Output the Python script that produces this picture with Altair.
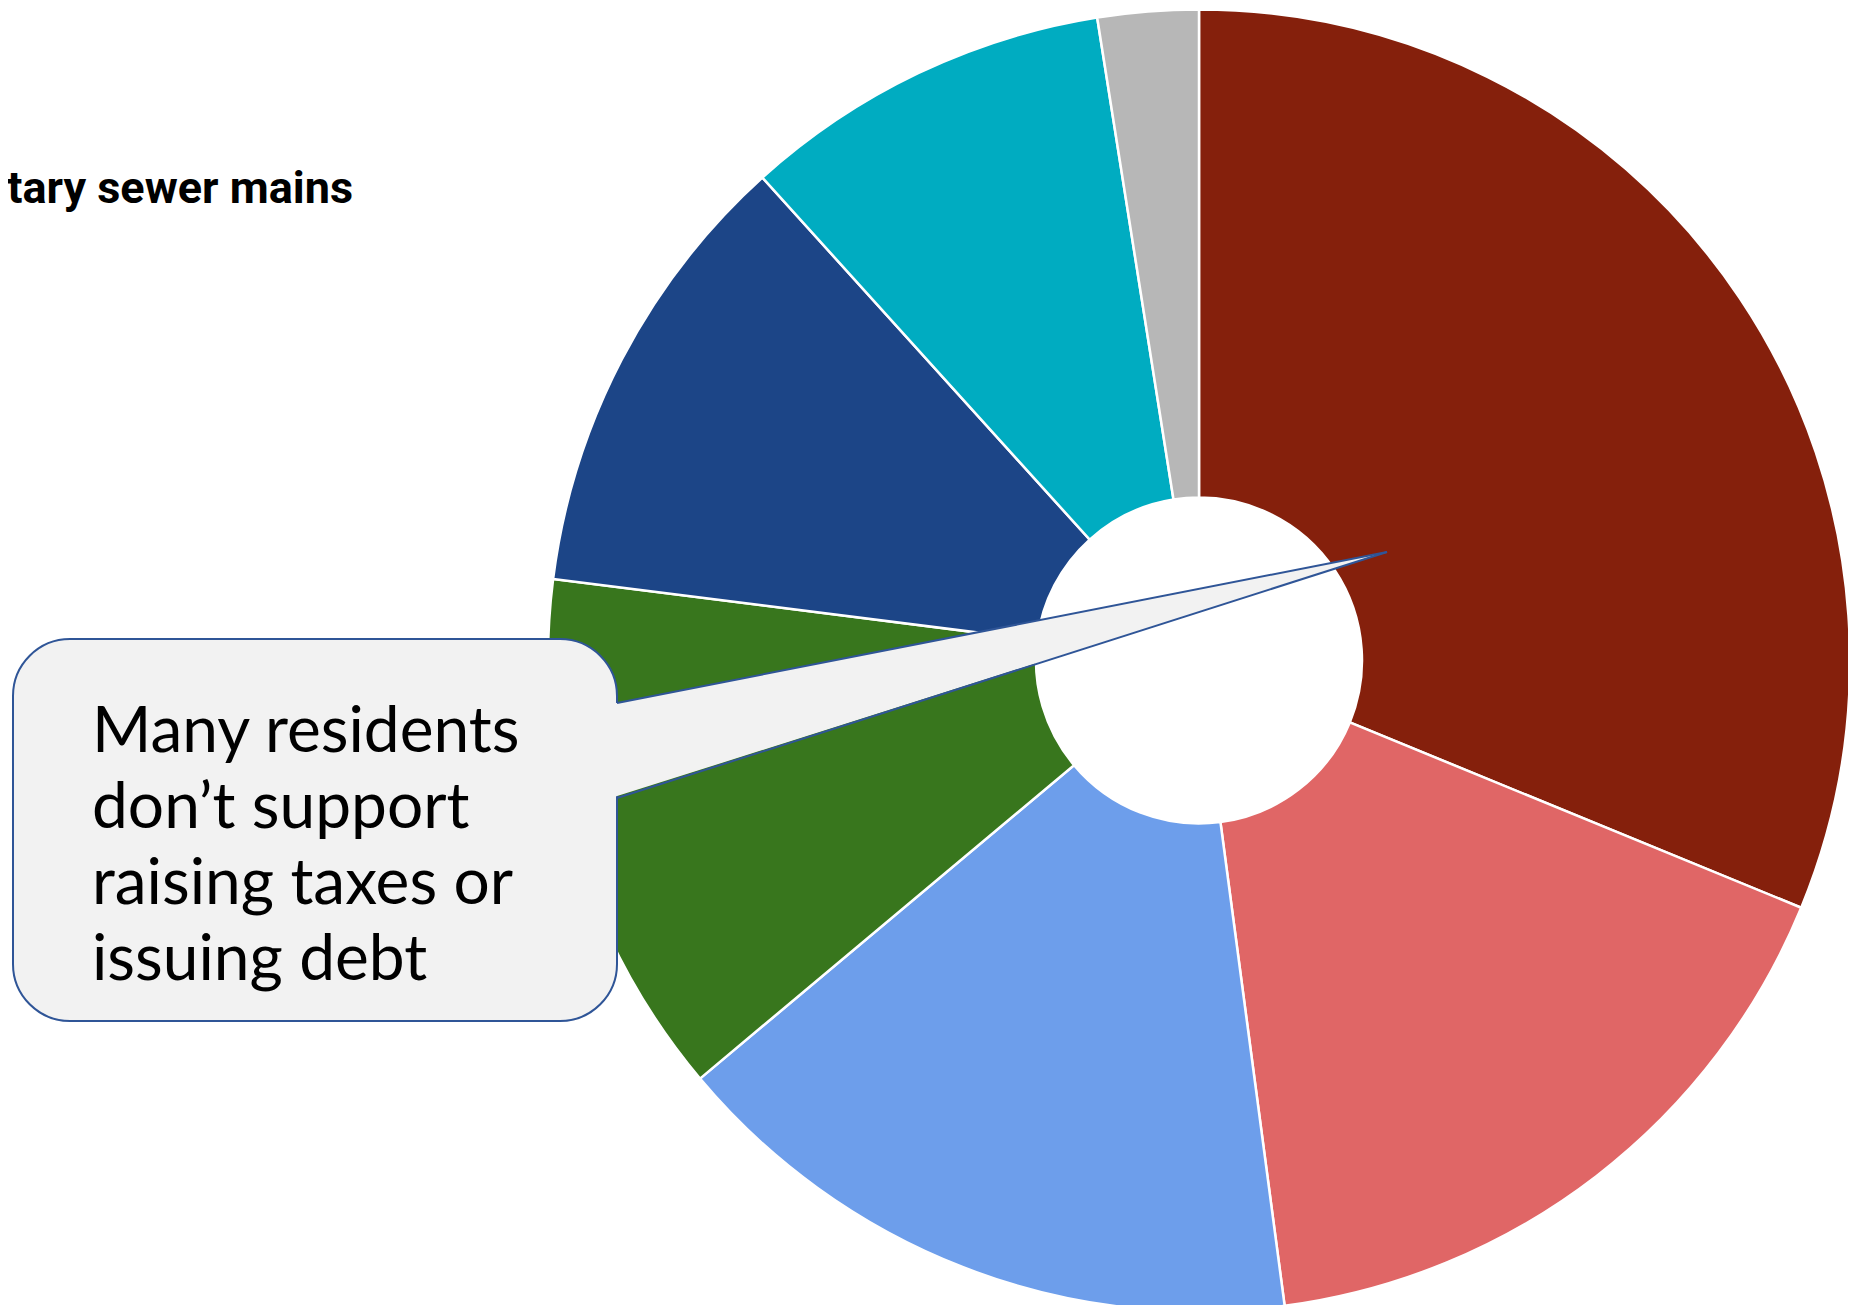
import altair as alt
import pandas as pd

# ---- data ----
categories = ["Category 1", "Category 2", "Category 3", "Category 4",
              "Category 5", "Category 6", "Category 7"]
values = [31.2, 16.7, 16.0, 13.1, 11.3, 9.2, 2.5]
colors = ["#85200C", "#E06666", "#6D9EEB", "#38761D", "#1C4587", "#00ACC1", "#B7B7B7"]

title_text = "tary sewer mains"
callout_lines = ["Many residents", "don\u2019t support", "raising taxes or", "issuing debt"]

# ---- layout ----
W, H = 1840, 1297
CX, CY = 1191, 652.5
R_OUT, R_IN = 651, 163
BOX = dict(x=5, x2=609, y=631, y2=1013)
TIP = (1379, 544)
BASE_TOP, BASE_BOT = 695, 790
EDGE = "#2F5597"
BOXFILL = "#F2F2F2"

df = pd.DataFrame({"cat": categories, "value": values, "idx": list(range(len(values)))})

xs = alt.Scale(domain=[0, W], range=[0, W], nice=False, zero=False)
ys = alt.Scale(domain=[0, H], range=[0, H], nice=False, zero=False)

donut = alt.Chart(df).mark_arc(radius=R_OUT, radius2=R_IN, stroke="white", strokeWidth=2.5).encode(
    theta=alt.Theta("value:Q", stack=True),
    color=alt.Color("cat:N", scale=alt.Scale(domain=categories, range=colors), legend=None),
    order=alt.Order("idx:Q"),
    x=alt.value(CX),
    y=alt.value(CY),
)

one = pd.DataFrame({"a": [0]})
box = alt.Chart(one).mark_rect(cornerRadius=57, fill=BOXFILL, stroke=EDGE, strokeWidth=2).encode(
    x=alt.value(BOX["x"]), x2=alt.value(BOX["x2"]),
    y=alt.value(BOX["y"]), y2=alt.value(BOX["y2"]),
)

tri_df = pd.DataFrame({"px": [BOX["x2"] - 3, TIP[0]],
                       "py": [BASE_TOP + 0.6, TIP[1]],
                       "py2": [BASE_BOT - 0.9, TIP[1]]})
tri = alt.Chart(tri_df).mark_area(fill=BOXFILL, opacity=1).encode(
    x=alt.X("px:Q", scale=xs, axis=None),
    y=alt.Y("py:Q", scale=ys, axis=None),
    y2="py2:Q",
)

edge_df = pd.DataFrame({"x1": [BOX["x2"], BOX["x2"]], "y1": [BASE_TOP, BASE_BOT],
                        "x2": [TIP[0], TIP[0]], "y2": [TIP[1], TIP[1]]})
edges = alt.Chart(edge_df).mark_rule(stroke=EDGE, strokeWidth=2).encode(
    x=alt.X("x1:Q", scale=xs, axis=None),
    y=alt.Y("y1:Q", scale=ys, axis=None),
    x2="x2:Q", y2="y2:Q",
)

txt = alt.Chart(one).mark_text(
    font="Lato", fontSize=64, align="left", baseline="alphabetic",
    lineHeight=76, color="#000000",
).encode(x=alt.value(84), y=alt.value(744), text=alt.value(callout_lines))

title = alt.Chart(one).mark_text(
    font="Roboto", fontSize=45, fontWeight="bold", align="right",
    baseline="alphabetic", color="#000000",
).encode(x=alt.value(345), y=alt.value(195), text=alt.value(title_text))

chart = alt.layer(donut, box, tri, edges, txt, title).properties(
    width=W, height=H, padding=0,
    autosize=alt.AutoSizeParams(type="none"),
).configure_view(strokeWidth=0)

chart.save("out.html", embed_options={"renderer": "svg", "actions": False})
